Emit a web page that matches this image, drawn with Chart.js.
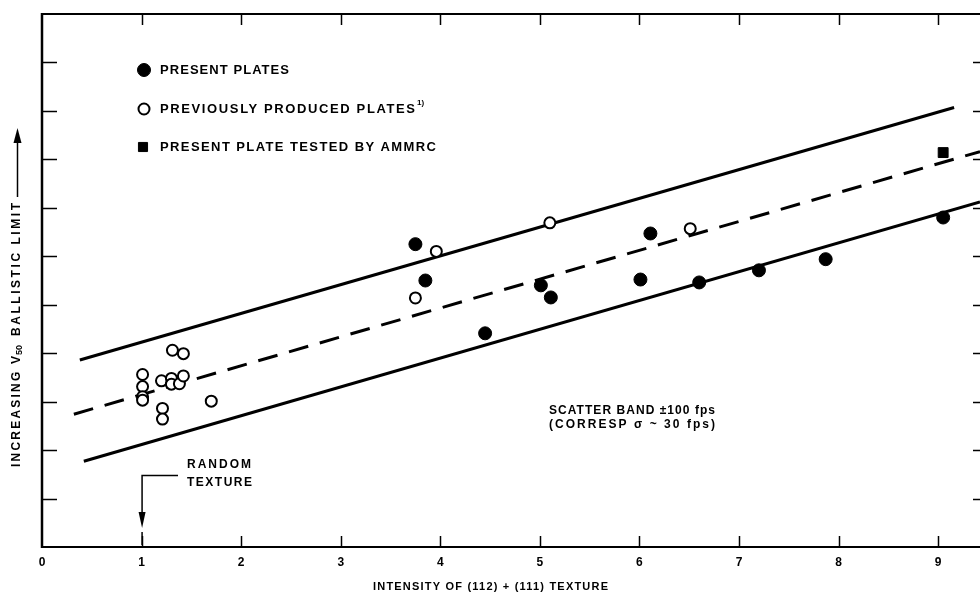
<!DOCTYPE html>
<html>
<head>
<meta charset="utf-8">
<script src="https://cdn.jsdelivr.net/npm/chart.js@4/dist/chart.umd.min.js"></script>
<style>
  html, body { margin: 0; padding: 0; background: #fff; }
  #wrap { width: 980px; height: 597px; }
</style>
</head>
<body>
<div id="wrap"><canvas id="ballisticChart" width="980" height="597"></canvas></div>
<script>
// x = intensity of (112)+(111) texture, y = V50 ballistic limit (relative units, axis ticks only)
var xTicks = [0, 1, 2, 3, 4, 5, 6, 7, 8, 9];
var yTicks = [1, 2, 3, 4, 5, 6, 7, 8, 9, 10];

var presentX = [3.75, 3.85, 4.45, 5.01, 5.11, 6.01, 6.11, 6.60, 7.20, 7.87, 9.05];
var presentY = [6.25, 5.50, 4.41, 5.40, 5.15, 5.52, 6.47, 5.46, 5.71, 5.94, 6.80];

var previousX = [1.31, 1.42, 1.01, 1.01, 1.01, 1.01, 1.20, 1.30, 1.30, 1.38, 1.42, 1.21, 1.21, 1.70, 3.96, 3.75, 5.10, 6.51];
var previousY = [4.06, 3.99, 3.56, 3.31, 3.10, 3.03, 3.43, 3.48, 3.36, 3.37, 3.53, 2.86, 2.64, 3.01, 6.10, 5.14, 6.69, 6.57];

var ammrcX = [9.05];
var ammrcY = [8.14];

var upperX = [0.38, 9.16];
var upperY = [3.86, 9.07];
var meanX = [0.32, 9.42];
var meanY = [2.74, 8.16];
var lowerX = [0.42, 9.42];
var lowerY = [1.77, 7.12];

function pts(xs, ys) {
	var out = [];
	for (var i = 0; i < xs.length; i++) out.push({ x: xs[i], y: ys[i] });
	return out;
}

var FONT = '"Liberation Sans", Arial, sans-serif';

// draw text stretched to a given width with letter spacing
function spaced(ctx, text, x, y, width) {
	ctx.letterSpacing = '0px';
	var w = ctx.measureText(text).width;
	var sp = (width - w) / Math.max(1, text.length - 1);
	ctx.letterSpacing = sp + 'px';
	ctx.fillText(text, x, y);
	ctx.letterSpacing = '0px';
	return x + width;
}

var framePlugin = {
	id: 'frame',
	afterDraw: function (chart) {
		var ctx = chart.ctx;
		var a = chart.chartArea;
		var xs = chart.scales.x, ys = chart.scales.y;
		ctx.save();
		ctx.strokeStyle = '#000';
		ctx.fillStyle = '#000';
		ctx.lineCap = 'butt';

		// frame
		ctx.lineWidth = 2;
		ctx.beginPath();
		ctx.moveTo(a.left, a.top); ctx.lineTo(a.right, a.top);
		ctx.moveTo(a.left, a.bottom); ctx.lineTo(a.right, a.bottom);
		ctx.stroke();
		ctx.lineWidth = 2.5;
		ctx.beginPath();
		ctx.moveTo(a.left, a.top - 1); ctx.lineTo(a.left, a.bottom + 1);
		ctx.stroke();

		// inward ticks
		ctx.lineWidth = 1.5;
		ctx.beginPath();
		xTicks.forEach(function (v) {
			if (v === 0) return;
			var px = Math.round(xs.getPixelForValue(v)) + 0.5;
			ctx.moveTo(px, a.bottom); ctx.lineTo(px, a.bottom - 11);
			ctx.moveTo(px, a.top); ctx.lineTo(px, a.top + 11);
		});
		yTicks.forEach(function (v) {
			var py = Math.round(ys.getPixelForValue(v)) + 0.5;
			ctx.moveTo(a.left, py); ctx.lineTo(a.left + 15, py);
			ctx.moveTo(a.right, py); ctx.lineTo(a.right - 7, py);
		});
		ctx.stroke();

		// legend
		var ds = chart.data.datasets;
		var rows = [
			{ d: ds[0], text: 'PRESENT PLATES', w: 129, sup: '' },
			{ d: ds[1], text: 'PREVIOUSLY PRODUCED PLATES', w: 255, sup: '1)' },
			{ d: ds[2], text: 'PRESENT PLATE TESTED BY AMMRC', w: 276, sup: '' }
		];
		var ly = [70, 109, 147];
		ctx.textBaseline = 'middle';
		ctx.textAlign = 'left';
		rows.forEach(function (r, i) {
			var d = r.d, mx = 144, my = ly[i];
			ctx.lineWidth = d.borderWidth;
			ctx.strokeStyle = d.borderColor;
			ctx.fillStyle = d.backgroundColor;
			ctx.beginPath();
			if (d.pointStyle === 'rect') {
				var s = d.pointRadius * 1.3;
				ctx.rect(mx - s / 2 - 1, my - s / 2, s, s);
			} else {
				ctx.arc(mx, my, d.pointRadius, 0, Math.PI * 2);
			}
			ctx.fill();
			ctx.stroke();
			ctx.fillStyle = '#000';
			ctx.font = 'bold 13px ' + FONT;
			var end = spaced(ctx, r.text, 160, my, r.w);
			if (r.sup) {
				ctx.font = 'bold 8px ' + FONT;
				ctx.fillText(r.sup, end + 2, my - 6);
			}
		});

		// scatter band note
		ctx.font = 'bold 12px ' + FONT;
		ctx.fillStyle = '#000';
		spaced(ctx, 'SCATTER BAND \u00b1100 fps', 549, 411, 166);
		spaced(ctx, '(CORRESP \u03c3 ~ 30 fps)', 549, 425, 166);

		// random texture annotation
		var x1 = xs.getPixelForValue(1);
		spaced(ctx, 'RANDOM', 187, 465, 64);
		spaced(ctx, 'TEXTURE', 187, 483, 65);
		ctx.lineWidth = 1.5;
		ctx.beginPath();
		ctx.moveTo(178, 475.5); ctx.lineTo(x1 + 0.5, 475.5); ctx.lineTo(x1 + 0.5, 520);
		ctx.stroke();
		ctx.beginPath();
		ctx.moveTo(x1 - 3, 512); ctx.lineTo(x1 + 4, 512); ctx.lineTo(x1 + 0.5, 528);
		ctx.closePath();
		ctx.fill();
		ctx.beginPath();
		ctx.moveTo(x1 + 0.5, 532); ctx.lineTo(x1 + 0.5, 545);
		ctx.stroke();

		// x title
		ctx.font = 'bold 11px ' + FONT;
		ctx.textBaseline = 'middle';
		spaced(ctx, 'INTENSITY OF (112) + (111) TEXTURE', 373, 587, 235);

		// y title (rotated)
		ctx.save();
		ctx.translate(17, 467);
		ctx.rotate(-Math.PI / 2);
		ctx.font = 'bold 12px ' + FONT;
		var p = spaced(ctx, 'INCREASING V', 0, 0, 111);
		ctx.font = 'bold 9px ' + FONT;
		ctx.fillText('50', p + 1, 3);
		ctx.font = 'bold 12px ' + FONT;
		spaced(ctx, 'BALLISTIC LIMIT', p + 20, 0, 133);
		ctx.lineWidth = 1.5;
		ctx.beginPath();
		ctx.moveTo(270, 0.5); ctx.lineTo(330, 0.5);
		ctx.stroke();
		ctx.beginPath();
		ctx.moveTo(324, -3.5); ctx.lineTo(339, 0.5); ctx.lineTo(324, 4.5);
		ctx.closePath();
		ctx.fill();
		ctx.restore();

		ctx.restore();
	}
};

var chart = new Chart('ballisticChart', {
	type: 'scatter',
	data: {
		datasets: [{
			label: 'PRESENT PLATES',
			data: pts(presentX, presentY),
			pointRadius: 6.5,
			pointHoverRadius: 6.5,
			backgroundColor: '#000',
			borderColor: '#000',
			borderWidth: 1,
			order: 0
		}, {
			label: 'PREVIOUSLY PRODUCED PLATES',
			data: pts(previousX, previousY),
			pointRadius: 5.5,
			pointHoverRadius: 5.5,
			backgroundColor: '#fff',
			borderColor: '#000',
			borderWidth: 2,
			order: 0
		}, {
			label: 'PRESENT PLATE TESTED BY AMMRC',
			data: pts(ammrcX, ammrcY),
			pointStyle: 'rect',
			pointRadius: 7,
			pointHoverRadius: 7,
			backgroundColor: '#000',
			borderColor: '#000',
			borderWidth: 1,
			order: 0
		}, {
			label: 'upper band',
			data: pts(upperX, upperY),
			showLine: true,
			pointRadius: 0,
			borderColor: '#000',
			borderWidth: 3,
			order: 1
		}, {
			label: 'mean',
			data: pts(meanX, meanY),
			showLine: true,
			pointRadius: 0,
			borderColor: '#000',
			borderWidth: 3,
			borderDash: [20, 12],
			order: 1
		}, {
			label: 'lower band',
			data: pts(lowerX, lowerY),
			showLine: true,
			pointRadius: 0,
			borderColor: '#000',
			borderWidth: 3,
			order: 1
		}]
	},
	options: {
		responsive: false,
		animation: false,
		devicePixelRatio: 1,
		layout: { autoPadding: false, padding: { top: 14, left: 0, right: 0, bottom: 0 } },
		plugins: {
			legend: { display: false },
			tooltip: { enabled: false }
		},
		scales: {
			x: {
				type: 'linear',
				min: 0,
				max: 9.42,
				grid: { display: false, drawTicks: false },
				border: { display: false },
				ticks: {
					stepSize: 1,
					includeBounds: false,
					padding: 8,
					maxRotation: 0,
					color: '#000',
					font: { family: FONT, size: 12, weight: 'bold' },
					callback: function (v) { return xTicks.indexOf(v) >= 0 ? String(v) : ''; }
				},
				afterFit: function (s) {
					s.height = 50;
					s.paddingLeft = 0;
					s.paddingRight = 0;
				}
			},
			y: {
				type: 'linear',
				min: 0,
				max: 11,
				grid: { display: false, drawTicks: false },
				border: { display: false },
				ticks: { display: false, stepSize: 1 },
				afterFit: function (s) {
					s.width = 42;
					s.paddingTop = 0;
					s.paddingBottom = 0;
				}
			}
		}
	},
	plugins: [framePlugin]
});
</script>
</body>
</html>
